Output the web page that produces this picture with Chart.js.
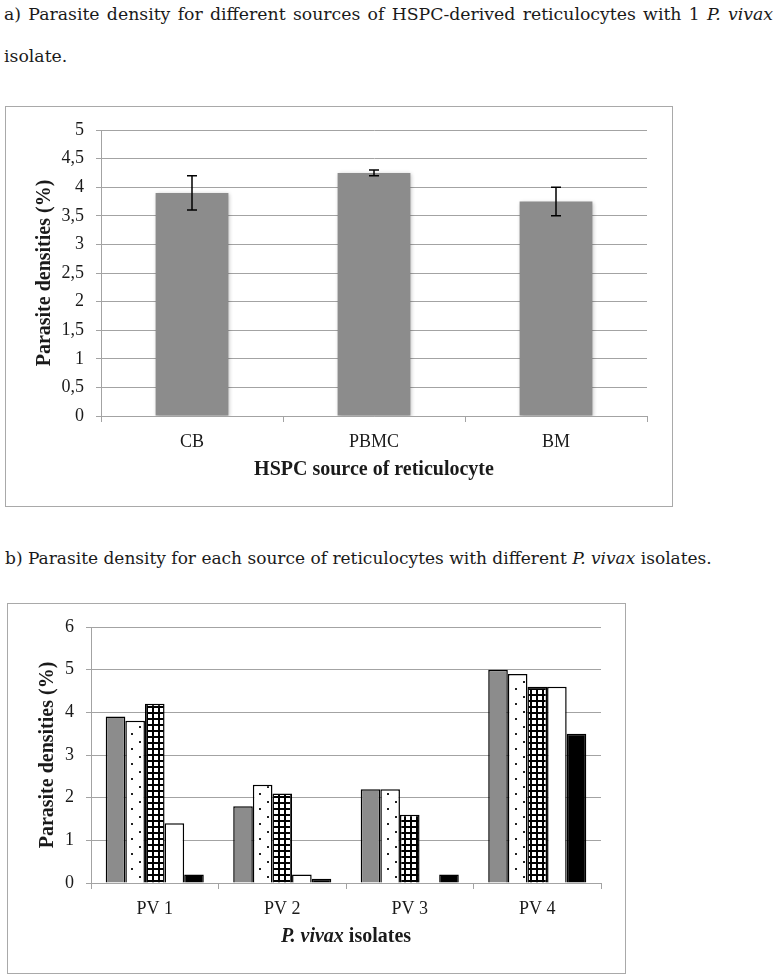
<!DOCTYPE html>
<html>
<head>
<meta charset="utf-8">
<script src="https://cdn.jsdelivr.net/npm/chart.js@4.4.1/dist/chart.umd.min.js"></script>
<style>
	body {
		margin: 0;
		background: #fff;
		width: 778px;
		height: 978px;
		position: relative;
		overflow: hidden;
		font-family: "DejaVu Serif", serif;
		color: #1a1a1a;
	}
	.cap {
		position: absolute;
		white-space: nowrap;
		font-size: 17.3px;
		line-height: 22px;
	}
	.box {
		position: absolute;
		border: 1px solid #a9a9a9;
		box-sizing: border-box;
	}
	.box canvas {
		display: block;
	}
</style>
</head>
<body>

<div class="cap" style="left:4px;top:3px;width:769px;text-align:justify;text-align-last:justify">a) Parasite density for different sources of HSPC-derived reticulocytes with 1 <i>P. vivax</i></div>
<div class="cap" style="left:4px;top:45px">isolate.</div>
<div class="box" style="left:5px;top:106px;width:668px;height:401px">
	<canvas id="chart_sources" width="666" height="399"></canvas>
</div>

<div class="cap" style="left:5px;top:547px;font-size:17px">b) Parasite density for each source of reticulocytes with different <i>P. vivax</i> isolates.</div>
<div class="box" style="left:7px;top:603px;width:619px;height:371px">
	<canvas id="chart_isolates" width="617" height="369"></canvas>
</div>

<script>
// chart a
const sources = ["CB", "PBMC", "BM"];
const sourceDensity = [3.9, 4.25, 3.75];
const sourceErrLow = [3.6, 4.2, 3.5];
const sourceErrHigh = [4.2, 4.3, 4.0];

// chart b
const isolates = ["PV 1", "PV 2", "PV 3", "PV 4"];
const series1 = [3.9, 1.8, 2.2, 5.0];
const series2 = [3.8, 2.3, 2.2, 4.9];
const series3 = [4.2, 2.1, 1.6, 4.6];
const series4 = [1.4, 0.2, 0, 4.6];
const series5 = [0.2, 0.1, 0.2, 3.5];

const GRID = "#a3a3a3";
const INK = "#1a1a1a";
const SERIF = '"Liberation Serif", serif';

Chart.defaults.font.family = SERIF;
Chart.defaults.font.size = 18;
Chart.defaults.color = INK;
Chart.defaults.animation = false;

function commaTick(v) {
	return String(v).replace(".", ",");
}

function dotPattern() {
	const c = document.createElement("canvas");
	c.width = 16;
	c.height = 15;
	const g = c.getContext("2d");
	g.fillStyle = "#fff";
	g.fillRect(0, 0, 16, 15);
	g.fillStyle = "#222";
	g.fillRect(3, 2, 2, 2);
	g.fillRect(11, 9, 2, 2);
	return g.createPattern(c, "repeat");
}

function gridPattern() {
	const c = document.createElement("canvas");
	c.width = 6;
	c.height = 6;
	const g = c.getContext("2d");
	g.fillStyle = "#fff";
	g.fillRect(0, 0, 6, 6);
	g.fillStyle = "#000";
	g.fillRect(0, 0, 6, 2);
	g.fillRect(0, 0, 2, 6);
	return g.createPattern(c, "repeat");
}

// soft glow round the grey bars of chart a
const barShadow = {
	id: "barShadow",
	beforeDatasetsDraw(chart) {
		const ctx = chart.ctx;
		ctx.save();
		ctx.shadowColor = "rgba(0,0,0,0.28)";
		ctx.shadowBlur = 4;
		ctx.shadowOffsetX = 1;
		ctx.shadowOffsetY = 1;
	},
	afterDatasetsDraw(chart) {
		chart.ctx.restore();
	}
};

const errorBars = {
	id: "errorBars",
	afterDatasetsDraw(chart) {
		const ctx = chart.ctx;
		const y = chart.scales.y;
		const bars = chart.getDatasetMeta(0).data;
		ctx.save();
		ctx.strokeStyle = "#000";
		ctx.lineWidth = 1.5;
		bars.forEach((bar, i) => {
			const top = y.getPixelForValue(sourceErrHigh[i]);
			const bot = y.getPixelForValue(sourceErrLow[i]);
			ctx.beginPath();
			ctx.moveTo(bar.x, top);
			ctx.lineTo(bar.x, bot);
			ctx.moveTo(bar.x - 5, top);
			ctx.lineTo(bar.x + 5, top);
			ctx.moveTo(bar.x - 5, bot);
			ctx.lineTo(bar.x + 5, bot);
			ctx.stroke();
		});
		ctx.restore();
	}
};

// x title of chart b mixes italic and upright text
const isolateTitle = {
	id: "isolateTitle",
	afterDraw(chart) {
		const ctx = chart.ctx;
		const area = chart.chartArea;
		const partA = "P. vivax";
		const partB = " isolates";
		ctx.save();
		ctx.fillStyle = INK;
		ctx.textBaseline = "middle";
		ctx.textAlign = "left";
		ctx.font = 'italic bold 20px "Liberation Serif"';
		const wa = ctx.measureText(partA).width;
		ctx.font = 'bold 20px "Liberation Serif"';
		const wb = ctx.measureText(partB).width;
		let x = (area.left + area.right) / 2 - (wa + wb) / 2;
		const yPos = area.bottom + 54;
		ctx.font = 'italic bold 20px "Liberation Serif"';
		ctx.fillText(partA, x, yPos);
		ctx.font = 'bold 20px "Liberation Serif"';
		ctx.fillText(partB, x + wa, yPos);
		ctx.restore();
	}
};

new Chart(document.getElementById("chart_sources"), {
	type: "bar",
	data: {
		labels: sources,
		datasets: [{
			label: "Parasite densities (%)",
			data: sourceDensity,
			backgroundColor: "#8c8c8c",
			borderWidth: 0,
			barPercentage: 0.4,
			categoryPercentage: 1,
		}],
	},
	options: {
		responsive: false,
		layout: {
			padding: { left: 27, right: 25, top: 23, bottom: 24 }
		},
		plugins: {
			legend: { display: false },
			tooltip: { enabled: false },
		},
		scales: {
			x: {
				afterFit: (s) => { s.height = 66; },
				grid: { drawOnChartArea: false, offset: true, tickLength: 6, color: GRID },
				border: { color: GRID },
				ticks: { padding: 9 },
				title: {
					display: true,
					text: "HSPC source of reticulocyte",
					font: { weight: "bold", size: 20 },
					padding: 0,
				},
			},
			y: {
				min: 0,
				max: 5,
				afterFit: (s) => { s.width = 68; },
				grid: { color: GRID, tickLength: 5 },
				border: { color: GRID },
				ticks: { stepSize: 0.5, padding: 12, callback: commaTick },
				title: {
					display: true,
					text: "Parasite densities (%)",
					font: { weight: "bold", size: 20 },
					padding: 0,
				},
			},
		},
	},
	plugins: [barShadow, errorBars],
});

const barStyle = {
	borderColor: "#000",
	borderWidth: 1.5,
	barPercentage: 1,
	categoryPercentage: 5 / 6.5,
};

new Chart(document.getElementById("chart_isolates"), {
	type: "bar",
	data: {
		labels: isolates,
		datasets: [
			{ label: "Series 1", data: series1, backgroundColor: "#8c8c8c", ...barStyle },
			{ label: "Series 2", data: series2, backgroundColor: dotPattern(), ...barStyle },
			{ label: "Series 3", data: series3, backgroundColor: gridPattern(), ...barStyle },
			{ label: "Series 4", data: series4, backgroundColor: "#fff", ...barStyle },
			{ label: "Series 5", data: series5, backgroundColor: "#000", ...barStyle },
		],
	},
	options: {
		responsive: false,
		layout: {
			padding: { left: 28, right: 24, top: 23, bottom: 24 }
		},
		plugins: {
			legend: { display: false },
			tooltip: { enabled: false },
		},
		scales: {
			x: {
				afterFit: (s) => { s.height = 66; },
				grid: { drawOnChartArea: false, offset: true, tickLength: 6, color: GRID },
				border: { color: GRID },
				ticks: { padding: 9 },
			},
			y: {
				min: 0,
				max: 6,
				afterFit: (s) => { s.width = 55; },
				grid: { color: GRID, tickLength: 5 },
				border: { color: GRID },
				ticks: { stepSize: 1, padding: 12 },
				title: {
					display: true,
					text: "Parasite densities (%)",
					font: { weight: "bold", size: 20 },
					padding: 0,
				},
			},
		},
	},
	plugins: [isolateTitle],
});
</script>
</body>
</html>
